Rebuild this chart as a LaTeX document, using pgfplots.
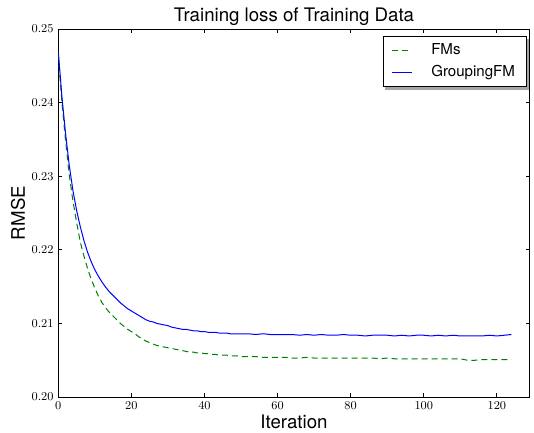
\documentclass[border=0pt]{standalone}
\usepackage{fontspec}
\setmainfont{TeX Gyre Heros}
\usepackage{pgfplots}
\pgfplotsset{compat=1.18}
\usepackage{pgfplotstable}
\usetikzlibrary{backgrounds}

\definecolor{mplgreen}{rgb}{0,0.5,0}
\definecolor{mplblue}{rgb}{0,0,1}

% iteration, RMSE
\pgfplotstableread{
it fm grp
0 0.2465 0.2470
1 0.2400 0.2408
2 0.2348 0.2358
3 0.2302 0.2315
4 0.2267 0.2281
5 0.2238 0.2254
6 0.2211 0.2232
7 0.2192 0.2213
8 0.2175 0.2197
9 0.2160 0.2184
10 0.2148 0.2173
11 0.2137 0.2164
12 0.2128 0.2156
13 0.2121 0.2149
14 0.2115 0.2143
15 0.2110 0.2138
16 0.2105 0.2133
17 0.2100 0.2128
18 0.2096 0.2124
19 0.2092 0.2120
20 0.2089 0.2117
21 0.2086 0.2114
22 0.2082 0.2111
23 0.2079 0.2108
24 0.2076 0.2105
25 0.2074 0.2103
26 0.2072 0.2102
27 0.2070 0.2100
28 0.2069 0.2099
29 0.2068 0.2098
30 0.2067 0.2097
31 0.2066 0.2095
32 0.2065 0.2094
33 0.2064 0.2093
34 0.2063 0.2092
35 0.2062 0.2092
36 0.2061 0.2091
37 0.2061 0.2090
38 0.2060 0.2090
39 0.2060 0.2089
40 0.2059 0.2089
41 0.2059 0.2088
42 0.2058 0.2088
43 0.2058 0.2088
44 0.2057 0.2087
45 0.2057 0.2087
46 0.2057 0.2087
47 0.2056 0.2086
48 0.2056 0.2086
49 0.2056 0.2086
50 0.2055 0.2086
52 0.2055 0.2086
54 0.2055 0.2085
56 0.2054 0.2086
58 0.2054 0.2085
60 0.2054 0.2085
62 0.2054 0.2085
64 0.2053 0.2085
66 0.2053 0.2084
68 0.2054 0.2085
70 0.2053 0.2084
72 0.2053 0.2085
74 0.2053 0.2084
76 0.2053 0.2084
78 0.2053 0.2085
80 0.2053 0.2084
82 0.2053 0.2084
84 0.2053 0.2083
86 0.2053 0.2084
88 0.2052 0.2084
90 0.2053 0.2084
92 0.2052 0.2083
94 0.2052 0.2084
96 0.2052 0.2083
98 0.2052 0.2084
100 0.2052 0.2084
102 0.2052 0.2083
104 0.2052 0.2084
106 0.2052 0.2083
108 0.2052 0.2084
110 0.2052 0.2083
112 0.2050 0.2083
114 0.2050 0.2083
116 0.2051 0.2083
118 0.2051 0.2084
120 0.2051 0.2083
122 0.2051 0.2084
124 0.2051 0.2085
}\losstable

\begin{document}
\begin{tikzpicture}
\begin{axis}[
  name=ax,
  scale only axis,
  width=353.6pt, height=276pt,
  xmin=0, xmax=129, ymin=0.20, ymax=0.25,
  xtick={0,20,...,120},
  ytick={0.20,0.21,0.22,0.23,0.24,0.25},
  yticklabel style={/pgf/number format/.cd, fixed, fixed zerofill, precision=2},
  scaled y ticks=false,
  tick label style={font=\fontsize{9}{10}\selectfont},
  tick align=inside,
  major tick length=3pt,
  axis line style={line width=0.8pt},
  every tick/.style={black, line width=0.6pt},
  title={Training loss of Training Data},
  title style={font=\fontsize{14}{16}\selectfont, yshift=-7pt},
  xlabel={Iteration},
  ylabel={RMSE},
  label style={font=\fontsize{14}{16}\selectfont},
  xlabel style={yshift=2.5pt},
  ylabel style={yshift=-2pt},
  legend style={name=leg, at={(1,1)}, anchor=north east, xshift=-2.3pt, yshift=-5.3pt,
    font=\fontsize{11.3}{13}\selectfont, draw=black, line width=0.6pt, fill=white,
    row sep=2.5pt, inner xsep=6.5pt, inner ysep=3.6pt},
  legend cell align=left,
  legend image code/.code={\draw[#1] (0pt,0pt) -- (15pt,0pt);},
]
\addplot[mplgreen, line width=0.75pt, dash pattern=on 4.5pt off 3pt] table[x=it, y=fm] {\losstable};
\addlegendentry{\hspace{12pt}FMs}
\addplot[mplblue, line width=0.75pt] table[x=it, y=grp] {\losstable};
\addlegendentry{\hspace{12pt}GroupingFM}
\end{axis}
\begin{pgfonlayer}{background}
\fill[gray!70] ([xshift=2.2pt,yshift=-2.2pt]leg.south west) rectangle ([xshift=2.2pt,yshift=-2.2pt]leg.north east);
\end{pgfonlayer}
\pgfresetboundingbox
\path (ax.south west) ++(-43.7pt,-26.8pt) coordinate (bl);
\path (ax.north east) ++(3.2pt,21.8pt) coordinate (tr);
\path[use as bounding box] (bl) rectangle (tr);
\end{tikzpicture}
\end{document}
